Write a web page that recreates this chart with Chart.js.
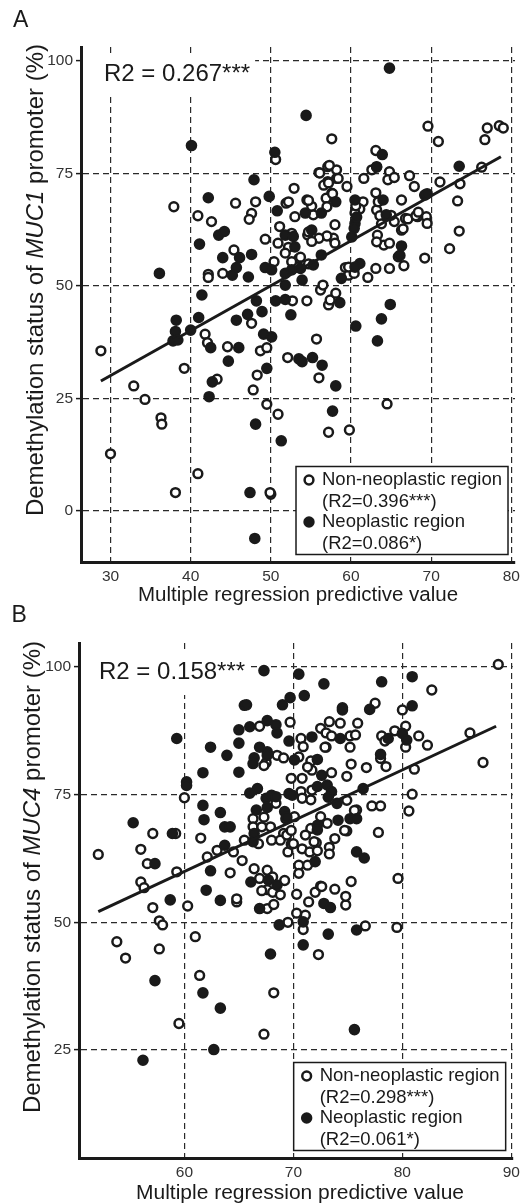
<!DOCTYPE html>
<html>
<head>
<meta charset="utf-8">
<script src="https://cdn.jsdelivr.net/npm/chart.js@4.4.1/dist/chart.umd.min.js"></script>
<style>
  html, body { margin: 0; padding: 0; background: #fff; }
  body { width: 525px; height: 1204px; position: relative; overflow: hidden; }
  .panel { position: absolute; left: 0; width: 525px; }
  #wrapA { top: 0; height: 610px; }
  #wrapB { top: 600px; height: 604px; }
</style>
</head>
<body>
<div class="panel" id="wrapA"><canvas id="chartA"></canvas></div>
<div class="panel" id="wrapB"><canvas id="chartB"></canvas></div>
<script>
const FONT = '"Liberation Sans", Arial, Helvetica, sans-serif';
const INK = '#1a1a1a';

// ---- Panel A: MUC1 ----
const nonNeoA = [
  [50.6,78.1],[57.6,82.7],[69.6,85.5],[70.9,82.1],[77.0,85.1],[76.7,82.5],[78.5,85.6],[79.0,85.1],
  [76.3,76.4],[73.6,72.7],[73.3,68.9],[73.5,62.2],[72.3,58.3],[69.2,56.2],[71.1,73.1],
  [69.4,65.4],[69.5,63.9],[68.3,65.4],[66.3,69.1],[67.3,74.5],[67.9,72.1],[66.8,65.0],[66.3,62.4],
  [65.9,56.5],[66.6,54.5],[64.8,53.9],[63.1,53.9],[62.1,51.9],[64.1,59.1],[63.3,61.3],[64.8,59.5],
  [63.1,80.1],[62.6,75.8],[61.6,73.9],[64.8,75.4],[64.6,73.6],[65.4,74.1],[63.1,70.7],[63.2,66.9],
  [63.6,65.6],[65.4,64.3],[61.5,68.7],[61.1,67.1],[60.5,66.2],[59.5,72.1],[59.3,54.1],[59.7,52.4],
  [60.4,52.8],[58.0,63.6],[57.8,60.6],[57.0,61.1],[56.0,60.6],[57.6,70.6],[56.9,69.5],[57.1,73.2],
  [57.1,76.5],[58.2,75.8],[58.2,73.9],[56.0,75.2],[56.6,72.4],[55.1,67.7],[54.5,69.1],[55.3,65.8],
  [54.6,61.3],[55.1,59.9],[52.9,71.7],[53.0,65.4],[51.9,68.4],[51.1,63.2],[49.3,60.4],[50.9,59.5],
  [52.6,61.7],[52.2,58.6],[51.8,57.3],[53.5,56.1],[52.6,55.4],[50.4,55.4],[48.1,68.7],[47.6,66.1],
  [47.3,64.8],[45.6,68.4],[40.9,65.6],[42.6,64.3],[45.4,58.0],[44.0,52.8],[42.2,52.6],[42.2,51.9],
  [37.9,67.6],[52.2,68.7],[54.7,69.0],[56.1,75.1],[57.3,76.8],[58.4,73.9],[57.2,72.9],[57.7,70.5],
  [57.0,67.6],[58.0,59.5],[54.7,62.0],[53.7,56.4],[54.7,54.9],[59.7,54.2],[63.2,59.8],[60.6,67.8],
  [63.2,76.4],[63.4,68.7],[63.8,63.8],[65.0,65.7],[66.5,62.7],[67.1,64.9],[68.1,65.6],[68.4,66.4],
  [28.8,35.6],[30.0,12.7],[32.9,27.8],[34.3,24.8],[36.3,20.7],[36.4,19.3],[39.2,31.7],[38.1,4.1],
  [40.9,8.3],[41.8,39.3],[42.1,37.4],[43.3,29.3],[44.6,36.5],[47.6,41.7],[48.7,35.6],[49.5,36.3],
  [48.3,30.2],[47.8,26.9],[49.5,23.7],[50.9,21.5],[50.0,3.7],[49.9,4.1],[52.7,46.7],[54.5,46.7],
  [52.1,34.1],[55.7,38.2],[56.0,29.6],[57.2,17.5],[59.8,18.0],[64.5,23.8],[57.2,45.8],[57.4,46.9],
  [58.1,48.4],[56.2,49.1],[56.5,50.2]
];
const neoA = [
  [64.8,98.4],[54.4,87.9],[40.1,81.2],[50.5,79.7],[73.5,76.6],[69.2,70.2],[66.3,58.9],[63.9,79.2],
  [63.2,76.5],[64.0,69.1],[64.4,65.8],[60.5,69.1],[60.5,63.9],[60.4,62.8],[60.1,60.9],[61.1,55.0],
  [58.8,51.7],[56.3,56.9],[58.1,68.7],[56.3,66.2],[54.3,66.2],[55.1,62.4],[55.3,54.7],[50.8,66.7],
  [51.8,61.3],[52.8,61.0],[53.0,58.7],[49.3,54.1],[50.1,53.6],[51.8,52.8],[52.6,53.6],[53.7,53.9],
  [53.9,51.3],[51.8,50.2],[49.8,69.9],[47.9,73.6],[42.2,69.6],[43.5,61.3],[44.2,62.1],[41.1,59.3],
  [44.0,56.3],[46.1,56.3],[47.6,57.0],[45.7,54.1],[45.2,52.4],[47.2,52.0],[36.1,52.8],[69.5,70.5],
  [60.5,54.2],[66.1,56.8],[60.7,65.3],
  [38.2,42.4],[38.1,39.9],[37.8,37.8],[38.4,38.0],[40.0,40.2],[41.0,43.0],[41.4,48.0],[42.5,36.3],
  [42.7,28.7],[42.3,25.4],[44.7,33.3],[46.0,36.3],[45.7,42.4],[47.1,43.7],[48.2,46.7],[48.9,44.3],
  [49.1,39.3],[50.1,38.7],[49.5,31.7],[48.1,19.3],[51.3,15.6],[47.4,4.1],[48.0,-6.1],[50.6,46.7],
  [51.8,47.0],[52.5,43.6],[53.5,33.8],[53.9,33.2],[55.2,34.1],[56.4,32.4],[58.1,27.8],[57.7,22.2],
  [60.6,41.1],[63.3,37.8],[63.8,42.7],[64.9,45.9],[58.6,46.3]
];
const fitAx = [28.8, 78.7];
const fitAy = [28.9, 78.7];
const xTicksA = [30, 40, 50, 60, 70, 80];
const yTicksA = [0, 25, 50, 75, 100];
const r2A = 'R2 = 0.267***';
const legendA = ['Non-neoplastic region', '(R2=0.396***)', 'Neoplastic region', '(R2=0.086*)'];

// ---- Panel B: MUC4 ----
const nonNeoB = [
  [52.1,63.3],[57.1,67.4],[56.0,64.3],[56.6,61.5],[56.0,57.9],[56.3,56.8],[57.1,52.9],[59.3,59.9],
  [60.3,53.2],[60.0,74.4],[61.5,66.5],[62.1,62.8],[63.0,64.1],[64.5,63.8],[65.5,66.1],[65.3,62.1],
  [64.2,59.7],[64.8,54.0],[64.8,54.6],[66.4,60.5],[67.6,60.2],[66.8,65.4],[59.2,67.4],[66.9,58.6],
  [67.6,56.4],[69.2,58.2],[68.1,58.9],[67.1,56.2],[68.1,55.9],[68.8,55.4],[67.6,52.7],[68.2,53.5],
  [66.9,88.4],[69.7,89.2],[67.5,81.3],[68.5,82.7],[69.1,82.2],[67.3,80.7],[69.8,78.2],[68.4,73.3],
  [66.3,70.3],[67.3,70.6],[69.3,70.3],[66.3,68.7],[67.1,68.7],[67.9,68.7],[69.1,67.4],[68.0,66.1],
  [68.8,66.1],[69.4,67.1],[69.5,63.8],[69.8,65.3],
  [57.7,50.3],[58.0,49.5],[53.8,46.2],[54.6,43.0],[57.7,44.8],[59.5,30.2],[61.0,47.2],[61.4,39.6],
  [67.3,28.1],[68.2,36.2],[69.5,50.0],[70.3,51.8],[71.1,51.4],[70.9,48.6],[72.3,43.7],[74.8,53.4],
  [76.6,49.3],[79.5,49.0],[71.4,54.0],[70.3,55.5],[72.0,55.9],[72.5,57.1],[73.8,56.5],[74.8,55.1],
  [88.8,100.5],[82.7,95.5],[77.5,92.9],[80.0,91.6],[73.3,89.3],[74.3,89.0],[75.9,89.0],[72.5,88.0],
  [80.3,88.4],[79.3,87.5],[81.5,86.5],[82.3,84.7],[86.2,87.1],[87.4,81.3],[78.1,86.5],[78.4,85.5],
  [80.3,84.3],[70.7,86.0],[73.0,87.1],[73.5,86.5],[75.2,86.5],[75.7,86.7],[73.0,84.3],[75.2,84.3],
  [70.9,84.4],[70.5,82.4],[71.6,81.6],[75.3,81.0],[76.7,80.3],[78.0,82.1],[78.5,80.5],[81.1,80.0],
  [80.9,75.1],[80.6,71.8],[77.8,67.6],[79.6,58.6],[74.9,78.6],[73.5,79.3],[71.7,79.8],[70.8,78.2],
  [71.7,75.9],[70.7,75.6],[70.8,74.3],[71.6,74.0],[74.9,73.9],[75.8,72.0],[77.2,72.8],[78.0,72.8],
  [74.9,67.9],[72.5,70.7],[73.1,69.4],[71.6,68.4],[71.1,67.1],[72.1,65.6],[70.1,70.7],[69.8,68.0],
  [70.0,65.4],[73.8,66.4],[73.3,64.7],[73.3,63.4],[70.8,64.4],[71.5,63.8],[72.2,64.0],[70.5,61.2],
  [71.3,61.2],[70.5,59.6],[72.6,57.0],[75.3,58.0],[72.9,84.3],[71.3,80.4],[74.7,68.0],[75.6,71.9],
  [71.9,65.8]
];
const neoB = [
  [55.3,69.5],[57.3,61.5],[58.7,54.4],[59.3,86.0],[60.2,77.5],[60.2,76.8],[61.7,72.9],[61.8,70.1],
  [61.7,79.3],[62.4,84.3],[63.9,82.7],[65.5,92.5],[65.0,87.7],[65.0,85.1],[65.0,79.4],[63.3,71.5],
  [63.7,68.7],[64.2,68.7],[63.7,65.1],[62.4,60.1],[62.0,56.3],[63.3,54.3],[66.1,57.9],[67.3,99.3],
  [69.7,94.0],[69.0,92.6],[65.7,92.6],[58.9,67.4],[66.3,65.8],[67.7,58.3],[68.5,57.3],[66.9,52.7],
  [66.0,88.3],[67.6,89.5],[68.4,88.7],[68.5,87.1],[69.6,85.5],[67.6,83.4],[66.9,84.3],[66.4,82.2],
  [67.6,82.7],[66.3,81.1],[66.7,76.2],[66.0,75.3],[67.5,74.3],[68.0,74.9],[68.4,74.6],[66.6,72.0],
  [67.6,72.5],[69.2,71.7],[69.4,70.6],[69.6,75.2],[66.4,67.4],
  [57.3,38.6],[56.2,23.0],[61.7,36.2],[63.3,33.2],[62.7,25.1],[67.9,43.8],[68.7,49.5],[70.9,50.1],
  [70.9,45.6],[73.2,47.7],[75.8,48.5],[75.6,29.0],[72.8,53.7],[73.4,52.9],
  [70.5,98.6],[72.8,96.7],[78.1,97.1],[80.9,98.1],[71.0,94.4],[74.5,92.0],[74.5,91.6],[77.0,91.7],
  [80.9,92.4],[80.0,87.0],[80.4,85.7],[78.7,86.0],[71.7,86.3],[74.3,86.0],[70.1,81.8],[72.2,81.9],
  [78.0,82.9],[76.4,76.2],[72.6,78.8],[73.1,76.9],[73.5,75.6],[74.0,73.3],[73.2,74.5],[72.2,76.6],
  [69.9,74.9],[74.1,70.0],[75.2,70.3],[75.8,70.3],[72.2,69.0],[72.2,68.1],[72.0,61.9],[75.8,63.8],
  [76.5,62.6]
];
const fitBx = [52.1, 88.6];
const fitBy = [52.1, 88.4];
const xTicksB = [60, 70, 80, 90];
const yTicksB = [25, 50, 75, 100];
const r2B = 'R2 = 0.158***';
const legendB = ['Non-neoplastic region', '(R2=0.298***)', 'Neoplastic region', '(R2=0.061*)'];

const xTitle = 'Multiple regression predictive value';

// titles, R2 label, legend box and panel letters
const decor = {
  id: 'decor',
  beforeDatasetsDraw(chart, args, o) {
    const { ctx, chartArea: a } = chart;
    ctx.save();
    ctx.font = '24px ' + FONT;
    const w = ctx.measureText(o.r2).width;
    ctx.fillStyle = '#fff';
    ctx.fillRect(a.left + 2, o.r2Y - 19, o.r2X - a.left + w + 3, 42);
    ctx.fillStyle = INK;
    ctx.textBaseline = 'middle';
    ctx.fillText(o.r2, o.r2X, o.r2Y);
    ctx.restore();
  },
  afterDraw(chart, args, o) {
    const { ctx, chartArea: a } = chart;
    ctx.save();

    // legend box
    const bw = 212, bh = 88;
    const bx = a.right - 7 - bw, by = a.bottom - 7.5 - bh;
    ctx.fillStyle = '#fff';
    ctx.fillRect(bx, by, bw, bh);
    ctx.strokeStyle = INK;
    ctx.lineWidth = 1.5;
    ctx.strokeRect(bx, by, bw, bh);
    const rows = [13.5, 35, 55.5, 77];
    ctx.font = '18.5px ' + FONT;
    ctx.fillStyle = INK;
    ctx.textBaseline = 'middle';
    o.legend.forEach((t, i) => ctx.fillText(t, bx + 26, by + rows[i]));
    ctx.beginPath();
    ctx.arc(bx + 13, by + rows[0], 4.4, 0, Math.PI * 2);
    ctx.fillStyle = '#fff';
    ctx.fill();
    ctx.lineWidth = 2.5;
    ctx.stroke();
    ctx.beginPath();
    ctx.arc(bx + 13, by + rows[2], 5.7, 0, Math.PI * 2);
    ctx.fillStyle = INK;
    ctx.fill();

    // panel letter
    ctx.textBaseline = 'alphabetic';
    ctx.font = '23px ' + FONT;
    ctx.fillText(o.letter, o.letterX, o.letterY);

    // x title
    ctx.font = o.xTitleSize + 'px ' + FONT;
    ctx.textAlign = 'center';
    ctx.fillText(xTitle, o.xTitleX, o.xTitleY);

    // y title, gene name in italics
    ctx.textAlign = 'left';
    const parts = [['Demethylation status of ', ''], [o.gene, 'italic '], [' promoter (%)', '']];
    let total = 0;
    parts.forEach(p => { ctx.font = p[1] + '24px ' + FONT; total += ctx.measureText(p[0]).width; });
    ctx.translate(o.yTitleX, o.yTitleY);
    ctx.rotate(-Math.PI / 2);
    let cx = -total / 2;
    parts.forEach(p => {
      ctx.font = p[1] + '24px ' + FONT;
      ctx.fillText(p[0], cx, 0);
      cx += ctx.measureText(p[0]).width;
    });
    ctx.restore();
  }
};

function pts(arr) { return arr.map(p => ({ x: p[0], y: p[1] })); }
function line(xs, ys) { return xs.map((x, i) => ({ x: x, y: ys[i] })); }

function makePanel(id, cfg) {
  const tickFont = { family: FONT, size: 15.5 };
  return new Chart(document.getElementById(id), {
    type: 'scatter',
    data: {
      datasets: [
        {
          label: 'fit', data: line(cfg.fitX, cfg.fitY), showLine: true,
          borderColor: INK, borderWidth: 3, pointRadius: 0, order: 0
        },
        {
          label: 'Neoplastic region', data: pts(cfg.neo),
          pointRadius: 4.8, pointBorderWidth: 2,
          pointBackgroundColor: INK, pointBorderColor: INK, order: 1
        },
        {
          label: 'Non-neoplastic region', data: pts(cfg.nonNeo),
          pointRadius: 4.4, pointBorderWidth: 2.5,
          pointBackgroundColor: '#fff', pointBorderColor: INK, order: 2
        }
      ]
    },
    options: {
      responsive: true,
      maintainAspectRatio: false,
      animation: false,
      events: [],
      layout: { padding: { left: 0, top: cfg.padTop, right: 7, bottom: 0 } },
      plugins: {
        legend: { display: false },
        tooltip: { enabled: false },
        decor: cfg.decor
      },
      scales: {
        x: {
          type: 'linear', min: cfg.xMin, max: cfg.xMax,
          afterBuildTicks: s => { s.ticks = cfg.xTicks.map(v => ({ value: v })); },
          afterFit: s => { s.height = cfg.xAxisH; },
          grid: { color: '#2a2a2a', lineWidth: 1.2, drawTicks: false },
          border: { display: true, color: INK, width: 3, dash: [6, 4] },
          ticks: { color: '#333', font: tickFont, padding: 5, maxRotation: 0, callback: v => String(v) }
        },
        y: {
          type: 'linear', min: cfg.yMin, max: cfg.yMax,
          afterBuildTicks: s => { s.ticks = cfg.yTicks.map(v => ({ value: v })); },
          afterFit: s => { s.width = cfg.yAxisW; },
          grid: { color: '#2a2a2a', lineWidth: 1.2, drawTicks: true, tickLength: 5, tickColor: INK, tickWidth: 1.5 },
          border: { display: true, color: INK, width: 3, dash: [6, 4] },
          ticks: { color: '#333', font: tickFont, padding: 3, callback: v => String(v) }
        }
      }
    },
    plugins: [decor]
  });
}

makePanel('chartA', {
  nonNeo: nonNeoA, neo: neoA, fitX: fitAx, fitY: fitAy,
  xTicks: xTicksA, yTicks: yTicksA,
  xMin: 26.32, xMax: 80.46, yMin: -11.33, yMax: 103.1,
  padTop: 47, yAxisW: 81, xAxisH: 48,
  decor: {
    r2: r2A, r2X: 104, r2Y: 74, legend: legendA, gene: 'MUC1',
    letter: 'A', letterX: 13, letterY: 27,
    xTitleSize: 20.5, xTitleX: 298, xTitleY: 601,
    yTitleX: 42.5, yTitleY: 280
  }
});

makePanel('chartB', {
  nonNeo: nonNeoB, neo: neoB, fitX: fitBx, fitY: fitBy,
  xTicks: xTicksB, yTicks: yTicksB,
  xMin: 50.33, xMax: 90.12, yMin: 3.86, yMax: 104.7,
  padTop: 43, yAxisW: 79, xAxisH: 46,
  decor: {
    r2: r2B, r2X: 99, r2Y: 72, legend: legendB, gene: 'MUC4',
    letter: 'B', letterX: 11.5, letterY: 22,
    xTitleSize: 21, xTitleX: 300, xTitleY: 598.5,
    yTitleX: 40, yTitleY: 277
  }
});
</script>
</body>
</html>
